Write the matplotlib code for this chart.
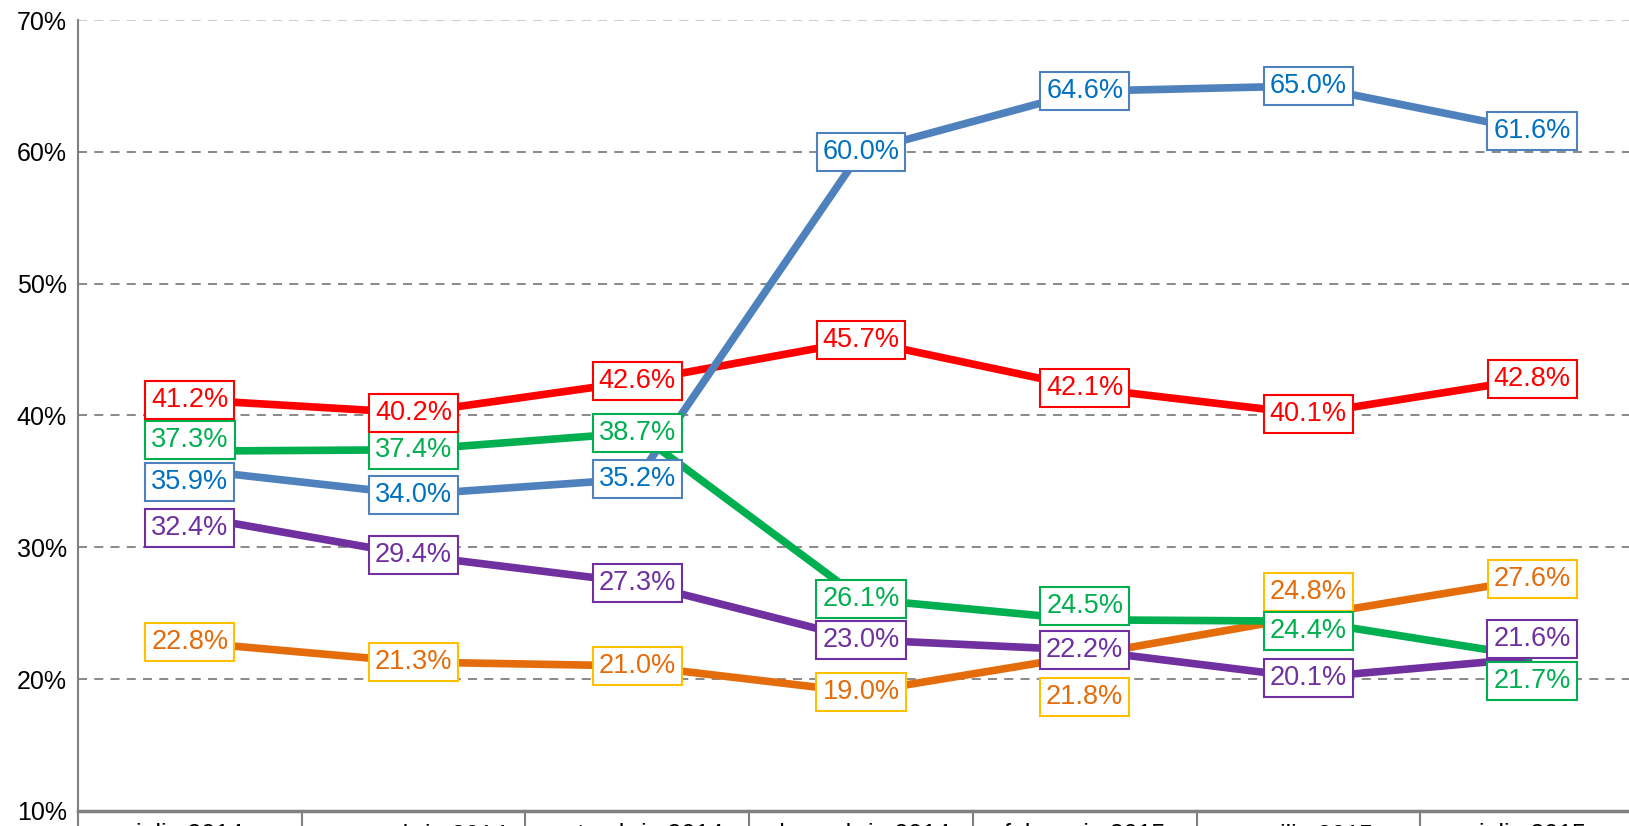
import matplotlib.pyplot as plt
import numpy as np

plt.rcParams['font.family'] = ['Liberation Sans', 'DejaVu Sans']

# data
months = ["iulie 2014", "septembrie 2014", "octombrie 2014", "decembrie 2014",
          "februarie 2015", "aprilie 2015", "iulie 2015"]
blue = [35.9, 34.0, 35.2, 60.0, 64.6, 65.0, 61.6]
red = [41.2, 40.2, 42.6, 45.7, 42.1, 40.1, 42.8]
green = [37.3, 37.4, 38.7, 26.1, 24.5, 24.4, 21.7]
purple = [32.4, 29.4, 27.3, 23.0, 22.2, 20.1, 21.6]
orange = [22.8, 21.3, 21.0, 19.0, 21.8, 24.8, 27.6]

# (values, line color, text color, box color, label shifts in px, + is down)
series = [
    (orange, "#E46C0A", "#E46C0A", "#FFC000", [0, 0, 0, 0, 42, -24, 0]),
    (purple, "#7030A0", "#7030A0", "#7030A0", [12, 0, 0, 0, 0, 0, -19]),
    (green, "#00B050", "#00B050", "#00B050", [-11, 0, 0, 0, -14, 10, 24]),
    (red, "#FF0000", "#FF0000", "#FF0000", [0, 0, 0, 0, 0, 0, 0]),
    (blue, "#4F81BD", "#0070C0", "#4F81BD", [12, 0, 0, 0, 0, 0, 0]),
]

fig = plt.figure(figsize=(16.29, 8.26), dpi=100)
ax = fig.add_axes([78 / 1629, 15 / 826, 1566 / 1629, 791 / 826])

x = np.arange(len(months))
for vals, lc, tc, bc, shifts in series:
    ax.plot(x, vals, color=lc, lw=5.5, solid_capstyle='butt', zorder=3)

for vals, lc, tc, bc, shifts in series:
    for xi, v, s in zip(x, vals, shifts):
        ax.annotate(f"{v:.1f}%", (xi, v), xytext=(0, -s * 0.72), textcoords='offset points',
                    ha='center', va='center', fontsize=19.5, color=tc, zorder=5,
                    bbox=dict(boxstyle='square,pad=0.22', fc='white', ec=bc, lw=1.5))

ax.set_xlim(-0.5, 6.5)
ax.set_ylim(10, 70)
ax.set_yticks(range(10, 71, 10))
ax.set_yticklabels([f"{t}%" for t in range(10, 71, 10)], fontsize=18)
ax.tick_params(axis='y', length=0, pad=8)

ax.set_xticks(x)
ax.set_xticklabels(months, fontsize=18)
ax.set_xticks(np.arange(-0.5, 7, 1), minor=True)
ax.tick_params(axis='x', which='major', length=0, pad=9)
ax.tick_params(axis='x', which='minor', length=20, width=1.5, color='#808080')

for t in range(20, 70, 10):
    ax.axhline(t, color='#808080', lw=1.3, ls=(0, (5, 4)), zorder=1)
ax.axhline(70, color='#C8C8C8', lw=1.3, ls=(0, (5, 4)), zorder=1)

for s in ['top', 'right']:
    ax.spines[s].set_visible(False)
ax.spines['left'].set_color('#808080')
ax.spines['left'].set_linewidth(1.5)
ax.spines['bottom'].set_color('#808080')
ax.spines['bottom'].set_linewidth(2.5)

fig.savefig("out.png", dpi=100)
